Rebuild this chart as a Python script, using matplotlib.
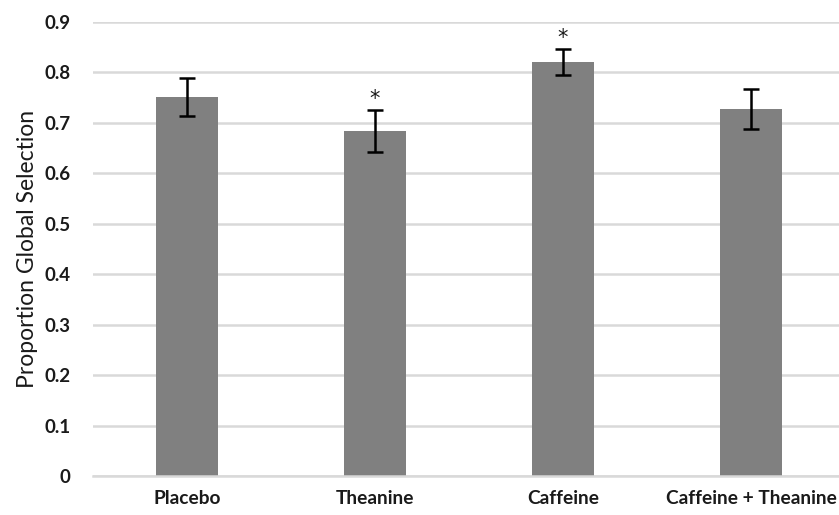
import matplotlib
matplotlib.use("Agg")
import matplotlib.pyplot as plt

categories = ["Placebo", "Theanine", "Caffeine", "Caffeine + Theanine"]
values = [0.751, 0.684, 0.820, 0.728]
errors = [0.038, 0.041, 0.026, 0.040]
marks = ["", "*", "*", ""]
yticks = [0, 0.1, 0.2, 0.3, 0.4, 0.5, 0.6, 0.7, 0.8, 0.9]
ytick_labels = ["0", "0.1", "0.2", "0.3", "0.4", "0.5", "0.6", "0.7", "0.8", "0.9"]

plt.rcParams['font.family'] = ['Lato', 'DejaVu Sans']

fig = plt.figure(figsize=(8.39, 5.15), dpi=100)
ax = fig.add_axes([93/839, 1-476/515, (839-93)/839, (476-22)/515])

x = list(range(len(categories)))
ax.bar(x, values, width=0.33, color="#808080", zorder=2)
ax.errorbar(x, values, yerr=errors, fmt="none", ecolor="black", elinewidth=1.8,
            capsize=6, capthick=1.8, zorder=3)
for xi, v, e, m in zip(x, values, errors, marks):
    if m:
        ax.text(xi, v + e + 0.002, m, ha="center", va="bottom", fontsize=15,
                family=['DejaVu Sans'], color="#1a1a1a", zorder=4)

ax.set_xlim(-0.5, 3.5 - 6/188)
ax.set_ylim(0, 0.9)
ax.set_yticks(yticks)
ax.set_yticklabels(ytick_labels)
ax.set_xticks(x)
ax.set_xticklabels(categories)
ax.yaxis.grid(True, color="#d9d9d9", linewidth=1.8, zorder=0)
ax.set_axisbelow(True)
for s in ["top", "right", "left"]:
    ax.spines[s].set_visible(False)
ax.spines["bottom"].set_color("#d9d9d9")
ax.spines["bottom"].set_linewidth(1.8)
ax.tick_params(axis="y", length=0, labelsize=13.5, labelcolor="#1a1a1a", pad=16)
ax.tick_params(axis="x", length=0, labelsize=13.8, labelcolor="#1a1a1a", pad=10)
for lbl in ax.get_xticklabels() + ax.get_yticklabels():
    lbl.set_fontweight("bold")
ax.set_ylabel("Proportion Global Selection", fontsize=16.5, labelpad=5, color="#1a1a1a")

fig.savefig("out.png", dpi=100)
